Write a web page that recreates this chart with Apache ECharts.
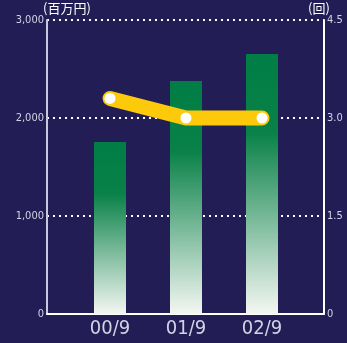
<!DOCTYPE html>
<html>
<head>
<meta charset="utf-8">
<script src="https://cdn.jsdelivr.net/npm/echarts@6/dist/echarts.min.js"></script>
<style>
  html, body { margin: 0; padding: 0; background: #231d55; }
  #chart { width: 347px; height: 343px; }
</style>
</head>
<body>
<div id="chart"></div>
<script>
// Fiscal periods and values
const categories = ['00/9', '01/9', '02/9'];
const salesValues = [1755, 2378, 2653];   // 百万円 (bars, left axis)
const turnoverValues = [3.3, 3.0, 3.0];   // 回 (line, right axis)
const leftTicks = [0, 1000, 2000, 3000];
const rightTicks = [0, 1.5, 3.0, 4.5];

const FONT = "'DejaVu Sans Condensed', 'DejaVu Sans', sans-serif";
const labelColor = '#d4d2e6';

const chart = echarts.init(document.getElementById('chart'));

const frameGrid = { left: 47, right: 23, top: 20, bottom: 29 };
const plotGrid = { left: 72, right: 47, top: 20, bottom: 29 };

chart.setOption({
  backgroundColor: '#231d55',
  animation: false,
  grid: [frameGrid, plotGrid],
  xAxis: [
    {
      gridIndex: 0, type: 'value', min: 0, max: 1,
      axisLine: { show: true, lineStyle: { color: '#ffffff', width: 2 } },
      axisTick: { show: false }, axisLabel: { show: false }, splitLine: { show: false }
    },
    {
      gridIndex: 1, type: 'category', data: categories,
      axisLine: { show: false }, axisTick: { show: false },
      axisLabel: { color: labelColor, fontSize: 20, fontFamily: FONT, margin: 5 }
    }
  ],
  yAxis: [
    {
      gridIndex: 0, type: 'value', position: 'left',
      min: leftTicks[0], max: leftTicks[leftTicks.length - 1], interval: 1000,
      name: '(百万円)', nameLocation: 'end', nameGap: 2,
      nameTextStyle: { color: '#ffffff', fontSize: 13, fontFamily: "'Noto Sans CJK JP', sans-serif", align: 'left', padding: [0, 0, 0, -4] },
      axisLine: { show: true, lineStyle: { color: '#c9c7de', width: 2 } },
      axisTick: { show: false },
      axisLabel: {
        color: labelColor, fontSize: 11, fontFamily: FONT, margin: 3,
        formatter: v => v.toLocaleString('en-US')
      },
      splitLine: { show: true, lineStyle: { color: '#ffffff', width: 2, type: [2, 4] } }
    },
    {
      gridIndex: 0, type: 'value', position: 'right',
      min: rightTicks[0], max: rightTicks[rightTicks.length - 1], interval: 1.5,
      name: '(回)', nameLocation: 'end', nameGap: 2,
      nameTextStyle: { color: '#ffffff', fontSize: 13, fontFamily: "'Noto Sans CJK JP', sans-serif", align: 'left', padding: [0, 0, 0, -16] },
      axisLine: { show: true, lineStyle: { color: '#ffffff', width: 2 } },
      axisTick: { show: false },
      axisLabel: {
        color: labelColor, fontSize: 11, fontFamily: FONT, margin: 3,
        formatter: v => v === 0 ? '0' : v.toFixed(1)
      },
      splitLine: { show: false }
    },
    {
      gridIndex: 1, type: 'value', show: false,
      min: leftTicks[0], max: leftTicks[leftTicks.length - 1]
    },
    {
      gridIndex: 1, type: 'value', show: false,
      min: rightTicks[0], max: rightTicks[rightTicks.length - 1]
    }
  ],
  series: [
    {
      type: 'bar', xAxisIndex: 1, yAxisIndex: 2,
      data: salesValues, barWidth: 32,
      itemStyle: {
        color: new echarts.graphic.LinearGradient(0, 0, 0, 1, [
          { offset: 0, color: '#007e45' },
          { offset: 0.3, color: '#098148' },
          { offset: 1, color: '#f4f7f2' }
        ])
      }
    },
    {
      type: 'line', xAxisIndex: 1, yAxisIndex: 3,
      data: turnoverValues,
      lineStyle: { color: '#fdc90b', width: 15, cap: 'round', join: 'round' },
      symbol: 'circle', symbolSize: 11,
      itemStyle: { color: '#ffffff', borderWidth: 0 },
      z: 5
    }
  ]
});
</script>
</body>
</html>
